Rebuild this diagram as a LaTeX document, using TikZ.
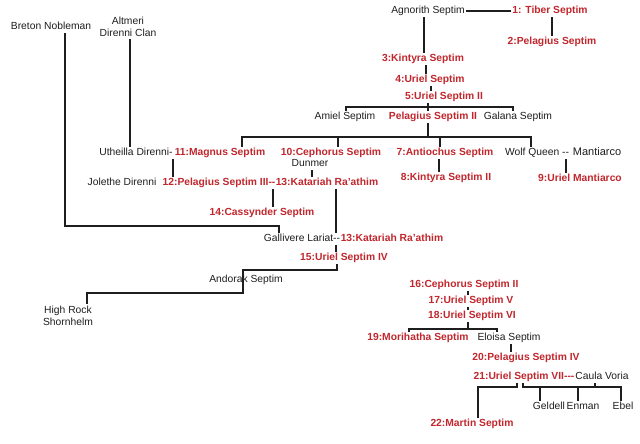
\documentclass[tikz,border=0pt]{standalone}
\usepackage{fontspec}
\setmainfont{Liberation Sans}
\usepackage{xcolor}
\usepackage{tikz}
\usetikzlibrary{calc}
\definecolor{bg}{HTML}{FFFFFF}
\definecolor{ink}{HTML}{1E1E1E}
\definecolor{crown}{HTML}{C1272D}
\tikzset{
  kin/.style={text=ink, font=\fontsize{10.3}{12}\selectfont, inner sep=2pt, text height=7.5pt, text depth=2pt},
  kintwo/.style={text=ink, font=\fontsize{10.3}{12.5}\selectfont, inner sep=2pt, align=center},
  ruler/.style={text=crown, font=\fontsize{10.3}{12}\selectfont\bfseries, inner sep=2pt, text height=7.5pt, text depth=2pt},
  tie/.style={draw=ink, line width=1.4pt, line cap=rect},
}

\begin{document}
\begin{tikzpicture}[x=1pt,y=-1pt]
  \path[fill=bg] (0,0) rectangle (640,444);
  % people
  \node[kin]    (breton)  at (51,27)   {Breton Nobleman};
  \node[kintwo] (altmeri) at (128,27)  {Altmeri\\Direnni Clan};
  \node[kin]    (agno)    at (428,11)  {Agnorith Septim};
  \node[ruler]  (tiber)   at (550,11)  {1: Tiber Septim};
  \node[ruler]  (pel1)    at (552,42)  {2:Pelagius Septim};
  \node[ruler]  (kin3)    at (423,59)  {3:Kintyra Septim};
  \node[ruler]  (uri4)    at (430,80)  {4:Uriel Septim};
  \node[ruler]  (uri5)    at (444,97)  {5:Uriel Septim II};
  \node[kin]    (amiel)   at (345,117) {Amiel Septim};
  \node[ruler]  (pel2)    at (433,117) {Pelagius Septim II};
  \node[kin]    (galana)  at (518,117) {Galana Septim};
  \node[kin]    (uth)     at (136,153) {Utheilla Direnni-};
  \node[ruler]  (magnus)  at (220,153) {11:Magnus Septim};
  \node[ruler]  (ceph)    at (331,153) {10:Cephorus Septim};
  \node[kin]    (dunmer)  at (310,164) {Dunmer};
  \node[ruler]  (anti)    at (445,153) {7:Antiochus Septim};
  \node[kin]    (wolf)    at (537,153) {Wolf Queen -{}-};
  \node[kin, font=\fontsize{11}{12}\selectfont] (mant) at (597,153) {Mantiarco};
  \node[ruler]  (kin8)    at (446,178) {8:Kintyra Septim II};
  \node[ruler]  (uri9)    at (580,179) {9:Uriel Mantiarco};
  \node[kin]    (jolethe) at (122,183) {Jolethe Direnni};
  \node[ruler]  (pel3)    at (219,183) {12:Pelagius Septim III-{}-};
  \node[ruler]  (kat)     at (327,183) {13:Katariah Ra'athim};
  \node[ruler]  (cass)    at (262,213) {14:Cassynder Septim};
  \node[kin]    (galli)   at (302,239) {Gallivere Lariat-{}-};
  \node[ruler]  (kat2)    at (392,239) {13:Katariah Ra'athim};
  \node[ruler]  (uri15)   at (344,258) {15:Uriel Septim IV};
  \node[kin]    (andorak) at (246,280) {Andorak Septim};
  \node[kintwo] (hrock)   at (68,316)  {High Rock\\Shornhelm};
  \node[ruler]  (ceph16)  at (464,285) {16:Cephorus Septim II};
  \node[ruler]  (uri17)   at (471,301) {17:Uriel Septim V};
  \node[ruler]  (uri18)   at (472,316) {18:Uriel Septim VI};
  \node[ruler]  (mori)    at (418,338) {19:Morihatha Septim};
  \node[kin]    (eloisa)  at (509,338) {Eloisa Septim};
  \node[ruler]  (pel20)   at (526,358) {20:Pelagius Septim IV};
  \node[ruler]  (uri21)   at (524,377) {21:Uriel Septim VII-{}-{}-};
  \node[kin]    (caula)   at (602,377) {Caula Voria};
  \node[kin]    (geldell) at (549,407) {Geldell};
  \node[kin]    (enman)   at (583,407) {Enman};
  \node[kin]    (ebel)    at (623,407) {Ebel};
  \node[ruler]  (martin)  at (472,424) {22:Martin Septim};
  % lines of descent
  \draw[tie] (agno.east) -- (tiber.west);
  \draw[tie] (tiber.south -| 552,0) -- (pel1.north -| 552,0);
  \draw[tie] (agno.south -| 424,0) -- (kin3.north -| 424,0);
  \draw[tie] (kin3.south -| 426,0) -- (uri4.north -| 426,0);
  \draw[tie] (uri4.south -| 431,0) -- (uri5.north -| 431,0);
  \draw[tie] (uri5.south -| 428,0) -- (pel2.north -| 428,0);
  \draw[tie] (amiel.north -| 346,0) -- (346,107) -- (513,107) -- (galana.north -| 513,0);
  \draw[tie] (pel2.south -| 428,0) -- (428,137);
  \draw[tie] (magnus.north -| 242,0) -- (242,137) -- (531,137) -- (wolf.north -| 531,0);
  \draw[tie] (338,137) -- (ceph.north -| 338,0);
  \draw[tie] (440,137) -- (anti.north -| 440,0);
  \draw[tie] (anti.south -| 439,0) -- (kin8.north -| 439,0);
  \draw[tie] (wolf.south -| 566,0) -- (uri9.north -| 566,0);
  \draw[tie] (altmeri.south -| 130,0) -- (uth.north -| 130,0);
  \draw[tie] (uth.south -| 173,0) -- (pel3.north -| 173,0);
  \draw[tie] (dunmer.south -| 312,0) -- (kat.north -| 312,0);
  \draw[tie] (pel3.south -| 273,0) -- (cass.north -| 273,0);
  \draw[tie] (kat.south -| 336,0) -- (kat2.north -| 336,0);
  \draw[tie] (breton.south -| 65,0) -- (65,226) -- (279,226) -- (galli.north -| 279,0);
  \draw[tie] (galli.south -| 336,0) -- (uri15.north -| 336,0);
  \draw[tie] (uri15.south -| 337,0) -- (337,270) -- (243,270) -- (andorak.north -| 243,0);
  \draw[tie] (andorak.north -| 243,0) -- (243,293) -- (87,293) -- (hrock.north -| 87,0);
  \draw[tie] (ceph16.south -| 468,0) -- (uri17.north -| 468,0);
  \draw[tie] (uri17.south -| 468,0) -- (uri18.north -| 468,0);
  \draw[tie] (uri18.south -| 468,0) -- (468,329);
  \draw[tie] (mori.north -| 409,0) -- (409,329) -- (497,329) -- (eloisa.north -| 497,0);
  \draw[tie] (eloisa.south -| 511,0) -- (pel20.north -| 511,0);
  \draw[tie] (uri21.south -| 517,0) -- (517,387) -- (478,387) -- (martin.north -| 478,0);
  \draw[tie] (uri21.south -| 523,0) -- (523,387) -- (621,387) -- (ebel.north -| 621,0);
  \draw[tie] (caula.south -| 595,0) -- (595,387);
  \draw[tie] (540,387) -- (geldell.north -| 540,0);
  \draw[tie] (578,387) -- (enman.north -| 578,0);
\end{tikzpicture}
\end{document}
